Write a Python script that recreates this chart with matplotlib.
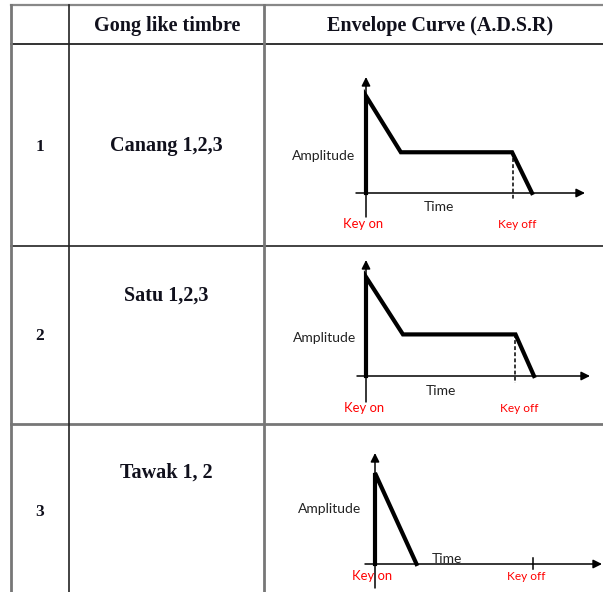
#!/usr/bin/env python3
"""
Table of gong-like timbres with their ADSR envelope sketches
"""

import matplotlib
matplotlib.use("Agg")
import matplotlib.pyplot as plt
from matplotlib.transforms import Affine2D

# table content
headers = ["", "Gong like timbre", "Envelope Curve (A.D.S.R)"]
row_numbers = ["1", "2", "3"]
timbres = ["Canang 1,2,3", "Satu 1,2,3", "Tawak 1, 2"]

# envelope shapes (time normalised to release end, amplitude to peak)
env_time = [
    [0.0, 0.0, 0.21, 0.88, 1.0],
    [0.0, 0.0, 0.22, 0.89, 1.0],
    [0.0, 0.0, 0.25],
]
env_amp = [
    [0.0, 1.0, 0.42, 0.42, 0.0],
    [0.0, 1.0, 0.42, 0.42, 0.0],
    [0.0, 1.0, 0.0],
]
sustain_level = [0.42, 0.42, None]
key_off_time = [0.885, 0.885, 0.95]
axis_labels = ("Amplitude", "Time")
key_labels = ("Key on", "Key off")

W, H = 603, 592
fig = plt.figure(figsize=(W / 100, H / 100), dpi=100)
ax = fig.add_axes([0, 0, 1, 1])
ax.set_xlim(0, W)
ax.set_ylim(H, 0)
ax.axis("off")

serif = "Liberation Serif"
sans = "Lato"
label_col = "#222222"
text_col = "#10101c"

# --- table grid (pixel layout) ---
col_x = [11, 69, 264]
row_y = [5, 44, 246, 424]
ax.plot([col_x[0], W], [row_y[0]] * 2, color="#888888", lw=1.6)
ax.plot([col_x[0], W], [row_y[1]] * 2, color="#111111", lw=1.2)
ax.plot([col_x[0], W], [row_y[2]] * 2, color="#222222", lw=1.2)
ax.plot([col_x[0], W], [row_y[3]] * 2, color="#777777", lw=2.0)
ax.plot([col_x[0]] * 2, [row_y[0], H], color="#777777", lw=2.0)
ax.plot([col_x[1]] * 2, [row_y[0], H], color="#222222", lw=1.2)
ax.plot([col_x[2]] * 2, [row_y[0], H], color="#777777", lw=2.0)

# header
ax.text(167, 26, headers[1], ha="center", va="center", family=serif,
        weight="bold", fontsize=14.5, color=text_col)
ax.text(440, 26, headers[2], ha="center", va="center", family=serif,
        weight="bold", fontsize=14.5, color=text_col)

# row labels
num_pos = [(40, 147), (40, 336), (40, 512)]
timbre_pos = [(166, 146), (166, 296), (166, 473)]
for i in range(3):
    ax.text(*num_pos[i], row_numbers[i], ha="center", va="center",
            family=serif, weight="bold", fontsize=12.5, color=text_col)
    ax.text(*timbre_pos[i], timbres[i], ha="center", va="center",
            family=serif, weight="bold", fontsize=14.5, color=text_col)

# --- envelope sketches ---
# origin (px), time scale, amplitude scale, x-axis extent, y-axis extent (px)
panels = [
    dict(o=(366, 193), ts=166, as_=97, xa=(-10, 219), ya=(-24, 116)),
    dict(o=(366, 376), ts=168, as_=99, xa=(-9, 224), ya=(-26, 116)),
    dict(o=(375, 564), ts=166, as_=91, xa=(-10, 227), ya=(-24, 111)),
]
# label offsets from origin in screen px (dx right, dy down)
amp_off = [(-42, -37), (-41, -38), (-45, -55)]
time_off = [(73, 14), (75, 15), (72, -5)]
keyon_off = [(-3, 31), (-2, 32), (-3, 12)]
keyoff_off = [(151, 32), (153, 32), (151, 13)]

for i, p in enumerate(panels):
    x0, y0 = p["o"]
    tr = Affine2D().scale(p["ts"], -p["as_"]).translate(x0, y0) + ax.transData
    px = Affine2D().scale(1, -1).translate(x0, y0) + ax.transData

    # axes with arrow heads
    ax.annotate("", xy=(p["xa"][1], 0), xytext=(p["xa"][0], 0),
                xycoords=px, textcoords=px,
                arrowprops=dict(arrowstyle="-|>", color="black", lw=1.1,
                                mutation_scale=13, shrinkA=0, shrinkB=0))
    ax.annotate("", xy=(0, p["ya"][1]), xytext=(0, p["ya"][0]),
                xycoords=px, textcoords=px,
                arrowprops=dict(arrowstyle="-|>", color="black", lw=1.1,
                                mutation_scale=13, shrinkA=0, shrinkB=0))

    # envelope
    ax.plot(env_time[i], env_amp[i], color="black", lw=3.0,
            solid_joinstyle="miter", transform=tr)

    # key off marker
    kt = key_off_time[i]
    if sustain_level[i] is not None:
        ax.plot([kt, kt], [sustain_level[i], -0.07], color="black", lw=1.1,
                ls=(0, (2.5, 1.5)), transform=tr)
    else:
        ax.plot([kt, kt], [-0.05, 0.07], color="black", lw=1.1, transform=tr)

    ax.text(x0 + amp_off[i][0], y0 + amp_off[i][1], axis_labels[0],
            ha="center", va="center", family=sans, fontsize=10,
            color=label_col)
    ax.text(x0 + time_off[i][0], y0 + time_off[i][1], axis_labels[1],
            ha="center", va="center", family=sans, fontsize=10,
            color=label_col)
    ax.text(x0 + keyon_off[i][0], y0 + keyon_off[i][1], key_labels[0],
            ha="center", va="center", family=sans, fontsize=9.4, color="red")
    ax.text(x0 + keyoff_off[i][0], y0 + keyoff_off[i][1], key_labels[1],
            ha="center", va="center", family=sans, fontsize=8.6, color="red")

fig.savefig("out.png", dpi=100)
